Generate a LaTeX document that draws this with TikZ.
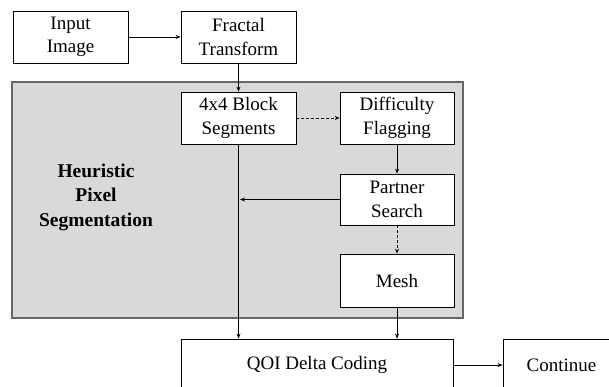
\documentclass[tikz,border=0pt]{standalone}
\usepackage{fontspec}
\setmainfont{Liberation Serif}
\usetikzlibrary{arrows.meta,calc}
\definecolor{panelfill}{HTML}{D9D9D9}
\definecolor{panelline}{HTML}{666666}
\tikzset{
  stepbox/.style={draw=black, line width=0.8pt, fill=white, minimum width=115pt, minimum height=52pt,
    inner sep=0pt, align=center, font=\fontsize{19}{23.5}\selectfont},
  conn/.style={line width=0.8pt, -{Stealth[length=5pt,width=4pt]}},
  dconn/.style={conn, dash pattern=on 3pt off 2pt},
}
\begin{document}
\begin{tikzpicture}[x=1pt,y=-1pt]
\useasboundingbox (0,0) rectangle (609,387);
\clip (0,0) rectangle (609,387);
\fill[white] (0,0) rectangle (609,387);
\draw[fill=panelfill, draw=panelline, line width=1.6pt] (12,82) rectangle (463,318);
\node[font=\bfseries\fontsize{19.5}{24.5}\selectfont, align=center] (lbl) at (96,197) {Heuristic\\Pixel\\Segmentation};

\node[stepbox] (in) at (70.5,37) {Input\\Image};
\node[stepbox] (ft) at (238.5,37) {Fractal\\Transform};
\node[stepbox] (blk) at (238.5,118) {4x4 Block\\Segments};
\node[stepbox, minimum width=114pt] (diff) at (397,118) {Difficulty\\Flagging};
\node[stepbox, minimum width=114pt, minimum height=51pt] (ps) at (397,199.5) {Partner\\Search};
\node[stepbox, minimum width=114pt, minimum height=53pt] (mesh) at (397,280.5) {Mesh};
\node[stepbox, minimum width=272pt] (qoi) at (317,365) {QOI Delta Coding};
\node[stepbox, minimum width=117pt] (cont) at (561.5,365) {Continue};

\coordinate (join) at ($(blk.south |- ps.west)+(1.5,0)$);
\draw[conn] (in) -- (ft);
\draw[conn] (ft) -- (blk);
\draw[dconn] (blk) -- (diff);
\draw[conn] (diff) -- (ps);
\draw[dconn] (ps) -- (mesh);
\draw[conn] (ps.west) -- (join);
\draw[conn] (blk.south) -- (blk.south |- qoi.north);
\draw[conn] (mesh.south) -- (mesh.south |- qoi.north);
\draw[conn] (qoi) -- (cont);
\end{tikzpicture}
\end{document}
